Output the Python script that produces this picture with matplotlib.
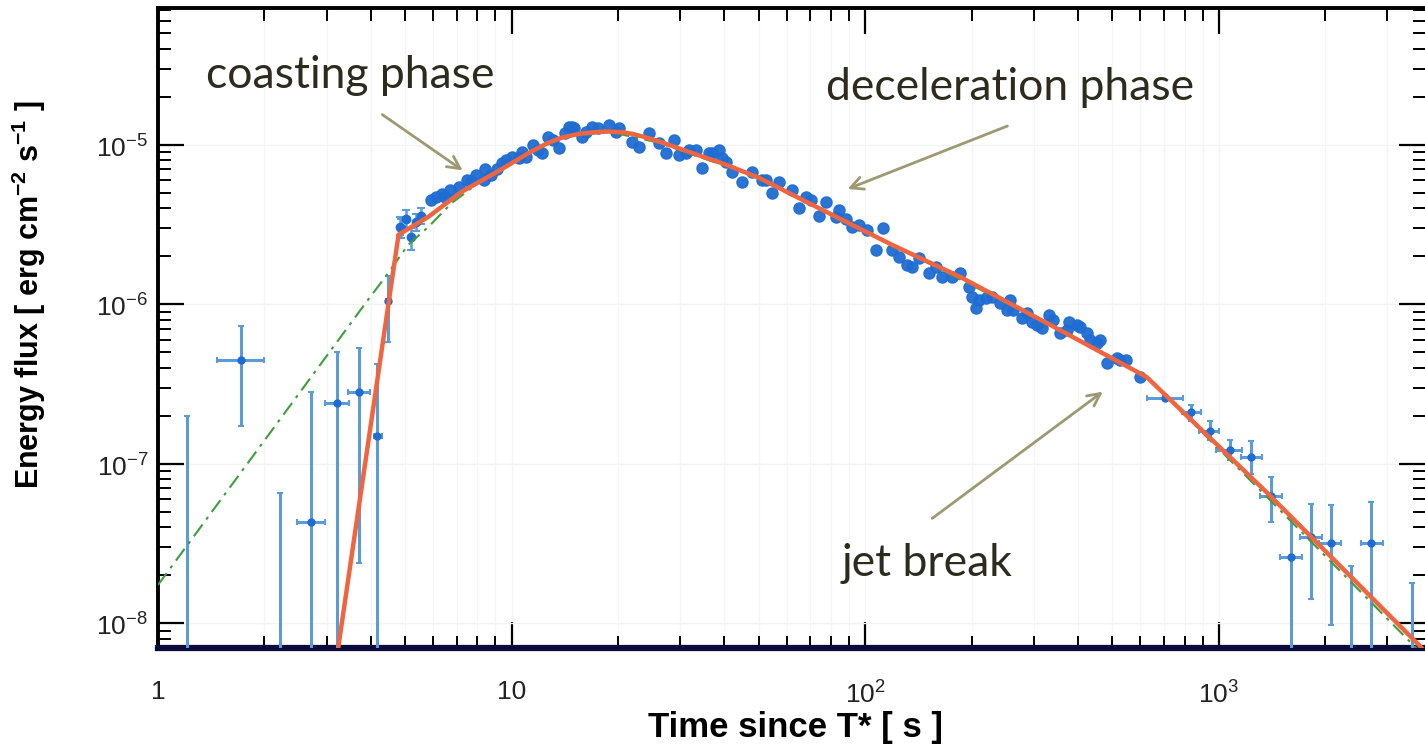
import matplotlib.pyplot as plt
from matplotlib.ticker import FixedLocator, FixedFormatter, LogLocator, NullFormatter

plt.rcParams['font.family'] = ['Liberation Sans', 'DejaVu Sans']
plt.rcParams['mathtext.fontset'] = 'custom'
plt.rcParams['mathtext.rm'] = 'Liberation Sans'
plt.rcParams['mathtext.bf'] = 'Liberation Sans:bold'

# sparse bins with error bars: time, flux, time range, flux range
sp_t = [1.21, 1.72, 2.22, 2.71, 3.21, 3.71, 4.17, 4.48,
        703, 833, 943, 1074, 1233, 1403, 1600, 1823, 2076, 2366, 2700, 3520]
sp_f = [4e-9, 4.5e-7, 4e-9, 4.3e-8, 2.4e-7, 2.8e-7, 1.5e-7, 1.05e-6,
        2.6e-7, 2.1e-7, 1.6e-7, 1.22e-7, 1.1e-7, 6.3e-8, 2.6e-8, 3.5e-8, 3.2e-8, 4e-9, 3.2e-8, 4e-9]
sp_tlo = [1.21, 1.47, 2.22, 2.48, 2.97, 3.45, 4.07, 4.40,
          625, 786, 880, 980, 1154, 1306, 1489, 1694, 1925, 2366, 2525, 3520]
sp_thi = [1.21, 2.00, 2.22, 2.97, 3.48, 3.98, 4.30, 4.56,
          791, 891, 1000, 1160, 1324, 1508, 1718, 1956, 2223, 2366, 2920, 3520]
sp_flo = [1e-9, 1.73e-7, 1e-9, 1e-9, 1e-9, 2.4e-8, 1e-9, 5.8e-7,
          2.5e-7, 1.85e-7, 1.4e-7, 1.05e-7, 8.6e-8, 4.3e-8, 1e-9, 1.43e-8, 9.8e-9, 1e-9, 1e-9, 1e-9]
sp_fhi = [2.0e-7, 7.3e-7, 6.6e-8, 2.8e-7, 5.0e-7, 5.3e-7, 4.2e-7, 1.5e-6,
          2.7e-7, 2.35e-7, 1.85e-7, 1.4e-7, 1.38e-7, 8.3e-8, 4.6e-8, 5.6e-8, 5.5e-8, 2.3e-8, 5.8e-8, 1.8e-8]

# early dense bins with visible error bars
ce_t = [4.85, 4.88, 5.04, 5.21, 5.35, 5.56]
ce_f = [3.06e-6, 3.0e-6, 3.4e-6, 2.65e-6, 3.3e-6, 3.6e-6]
ce_lo = [2.7e-6, 2.6e-6, 3.0e-6, 2.2e-6, 2.9e-6, 3.2e-6]
ce_hi = [3.5e-6, 3.4e-6, 3.9e-6, 3.0e-6, 3.7e-6, 4.0e-6]

# dense bins
de_t = [5.90, 6.13, 6.34, 6.5, 6.71, 7.08, 7.46, 7.7, 7.91, 8.33, 8.4, 8.72, 9.07, 9.4,
        9.62, 10.0, 10.5, 10.7, 11.0, 11.5, 11.9, 12.2, 12.7, 13.1, 13.6, 14.2, 14.5, 14.8,
        15.0, 15.8, 16.2, 16.9, 17.6, 18.8, 19.7, 20.1, 21.9, 22.9, 24.4, 26.1, 27.3, 28.8,
        29.7, 31.1, 31.7, 33.2, 34.5, 36.1, 36.9, 38.6, 39.4, 40.4, 42.0, 44.8, 47.8, 51.1,
        52.4, 54.5, 57.1, 62.1, 65.0, 68.1, 70.3, 74.1, 77.6, 82.8, 84.4, 88.3, 91.8, 96.2,
        101, 107, 112, 119, 125, 131, 136, 142, 152, 159, 165, 176, 185, 197, 201, 206, 210,
        220, 229, 240, 251, 256, 261, 277, 286, 297, 307, 317, 332, 339, 355, 371, 378, 396,
        404, 423, 431, 451, 460, 482, 514, 524, 548, 597]
de_f = [4.5e-6, 4.7e-6, 4.9e-6, 4.7e-6, 5.2e-6, 5.4e-6, 6.0e-6, 5.9e-6, 6.5e-6, 6.0e-6,
        7.0e-6, 6.5e-6, 7.0e-6, 7.7e-6, 8.05e-6, 8.4e-6, 8.3e-6, 9.0e-6, 8.4e-6, 1.0e-5,
        9.3e-6, 8.9e-6, 1.12e-5, 1.07e-5, 9.6e-6, 1.19e-5, 1.30e-5, 1.30e-5, 1.28e-5,
        1.12e-5, 1.21e-5, 1.30e-5, 1.28e-5, 1.33e-5, 1.21e-5, 1.28e-5, 1.04e-5, 9.7e-6,
        1.19e-5, 1.03e-5, 8.9e-6, 1.07e-5, 8.6e-6, 8.9e-6, 9.3e-6, 9.3e-6, 7.2e-6, 8.9e-6,
        8.9e-6, 9.3e-6, 8.3e-6, 7.8e-6, 6.7e-6, 5.8e-6, 6.7e-6, 6.0e-6, 6.0e-6, 5.0e-6,
        5.8e-6, 5.2e-6, 4.0e-6, 4.7e-6, 4.5e-6, 3.6e-6, 4.4e-6, 3.5e-6, 3.9e-6, 3.4e-6,
        3.06e-6, 3.15e-6, 2.93e-6, 2.2e-6, 3.0e-6, 2.2e-6, 1.99e-6, 1.77e-6, 1.72e-6,
        1.96e-6, 1.57e-6, 1.72e-6, 1.49e-6, 1.49e-6, 1.57e-6, 1.29e-6, 1.11e-6, 9.5e-7,
        1.07e-6, 1.10e-6, 1.11e-6, 1.02e-6, 9.2e-7, 1.07e-6, 9.2e-7, 8.2e-7, 8.85e-7,
        7.7e-7, 7.4e-7, 7.1e-7, 8.6e-7, 8.0e-7, 6.6e-7, 6.9e-7, 7.7e-7, 7.4e-7, 7.2e-7,
        6.6e-7, 6.0e-7, 5.7e-7, 6.0e-7, 4.3e-7, 4.6e-7, 4.5e-7, 4.5e-7, 3.5e-7]

# fitted model (red) and alternative model (green)
fit_t = [3.2, 4.79, 5.82, 7.22, 9.0, 11.2, 12.7, 13.9, 15.5, 17.2, 18.8, 20.5, 22.0, 24.0,
         26.1, 32.3, 40.4, 50.1, 77.5, 119, 185, 355, 625, 1368, 3640, 4000]
fit_f = [6e-9, 2.73e-6, 3.54e-6, 5.07e-6, 6.67e-6, 8.9e-6, 1.03e-5, 1.11e-5, 1.17e-5,
         1.2e-5, 1.21e-5, 1.2e-5, 1.17e-5, 1.11e-5, 1.05e-5, 8.9e-6, 7.5e-6, 6.2e-6,
         3.8e-6, 2.36e-6, 1.49e-6, 6.9e-7, 3.5e-7, 6.6e-8, 7.5e-9, 6e-9]
alt_t = [1.0, 2.0, 3.93, 4.4, 5.1, 5.82, 6.76, 8.5, 11.2, 13.9, 18.8, 26.1, 50.1, 119,
         355, 625, 1368, 3640, 4000]
alt_f = [1.74e-8, 1.4e-7, 1.07e-6, 1.49e-6, 2.36e-6, 3.06e-6, 4.3e-6, 6.3e-6, 8.9e-6,
         1.1e-5, 1.21e-5, 1.03e-5, 6.2e-6, 2.36e-6, 6.9e-7, 3.5e-7, 6.2e-8, 6.9e-9, 5.5e-9]

W, H = 1425, 748
fig = plt.figure(figsize=(W / 100, H / 100), dpi=100)
ax = fig.add_axes([158 / W, 1 - 648 / H, (W - 158) / W, 640 / H])
ax.set_xscale('log')
ax.set_yscale('log')
ax.set_xlim(1, 3830)
ax.set_ylim(7.0e-9, 7.2e-5)

ax.grid(True, which='both', axis='x', color='#f5f5f5', lw=1)
ax.grid(True, which='major', axis='y', color='#f3f3f3', lw=1)
ax.set_axisbelow(True)

ebc = '#5b9bd8'
mc = '#1f6dd2'
xerr = [[t - lo for t, lo in zip(sp_t, sp_tlo)], [hi - t for t, hi in zip(sp_t, sp_thi)]]
yerr = [[f - lo for f, lo in zip(sp_f, sp_flo)], [hi - f for f, hi in zip(sp_f, sp_fhi)]]
ax.errorbar(sp_t, sp_f, xerr=xerr, yerr=yerr, fmt='o', ms=5, color=mc, ecolor=ebc,
            elinewidth=2.2, capsize=2.5, capthick=1.5, zorder=3)
ax.errorbar(ce_t, ce_f, yerr=[[f - l for f, l in zip(ce_f, ce_lo)], [h - f for f, h in zip(ce_f, ce_hi)]],
            fmt='o', ms=6, color=mc, ecolor=ebc, elinewidth=1.8, capsize=3, capthick=1.5, zorder=3)
ax.plot(de_t, de_f, 'o', ms=8, color=mc, alpha=0.95, zorder=3)

ax.plot(alt_t, alt_f, color='#3c9e3c', lw=1.5, ls=(0, (7, 3, 1.5, 3)), zorder=4)
ax.plot(fit_t, fit_f, color='#f0653f', lw=3.2, zorder=5, solid_capstyle='butt')

# ticks
ax.tick_params(which='both', direction='in', top=True, right=True, colors='black')
ax.tick_params(which='major', length=19, width=1.6, labelsize=19, labelcolor='#222222')
ax.tick_params(which='minor', length=9, width=1.4)
ax.tick_params(axis='x', which='major', pad=23)
ax.tick_params(axis='y', which='major', pad=7)
ax.xaxis.set_major_locator(FixedLocator([1, 10, 100, 1000]))
ax.xaxis.set_major_formatter(FixedFormatter(['1', '10', r'$10^2$', r'$10^3$']))
ax.xaxis.set_minor_locator(LogLocator(base=10, subs=range(2, 10), numticks=20))
ax.xaxis.set_minor_formatter(NullFormatter())
ax.yaxis.set_major_locator(FixedLocator([1e-8, 1e-7, 1e-6, 1e-5]))
ax.yaxis.set_major_formatter(FixedFormatter([r'$10^{-8}$', r'$10^{-7}$', r'$10^{-6}$', r'$10^{-5}$']))
ax.yaxis.set_minor_locator(LogLocator(base=10, subs=range(2, 10), numticks=20))
ax.yaxis.set_minor_formatter(NullFormatter())

ax.spines['left'].set_linewidth(2.8)
ax.spines['top'].set_linewidth(2.8)
ax.spines['bottom'].set_linewidth(4.5)
ax.spines['bottom'].set_color('#0b0b3a')
ax.spines['right'].set_visible(False)

ax.set_xlabel('Time since T* [ s ]', fontsize=25, fontweight='bold')
ax.xaxis.set_label_coords(0.503, -0.099)
ax.set_ylabel(r'Energy flux [ erg cm$^{\mathbf{-2}}$ s$^{\mathbf{-1}}$ ]', fontsize=22, fontweight='bold')
ax.yaxis.set_label_coords(-0.087, 0.552)

# annotations
tc = '#2d2a1e'
ac = '#9c9a72'
def fp(x, y):
    return (x / W, 1 - y / H)

fig.text(*fp(350, 75), 'coasting phase', family='Lato', fontsize=32, color=tc, ha='center', va='center')
fig.text(*fp(1010, 88), 'deceleration phase', family='Lato', fontsize=32, color=tc, ha='center', va='center')
fig.text(*fp(927, 563), 'jet break', family='Lato', fontsize=32, color=tc, ha='center', va='center')

arrow = dict(arrowstyle='->,head_length=0.9,head_width=0.45', color=ac, lw=2)
for tail, head in [((380, 113), (465, 172)), ((1010, 125), (845, 190)), ((930, 520), (1105, 390))]:
    ax.annotate('', xy=fp(*head), xytext=fp(*tail), xycoords='figure fraction',
                textcoords='figure fraction', arrowprops=arrow)

fig.savefig('out.png', dpi=100)
